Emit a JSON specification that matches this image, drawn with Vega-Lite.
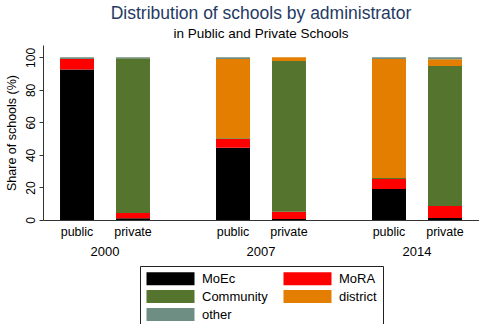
{
  "$schema": "https://vega.github.io/schema/vega-lite/v6.json",
  "autosize": {"type": "none"},
  "padding": {"left": 43, "top": 45, "right": 0, "bottom": 104},
  "width": 436,
  "height": 175,
  "background": "white",
  "config": {
    "font": "Liberation Sans",
    "view": {"stroke": null},
    "axis": {"labelOverlap": false}
  },
  "title": {
    "text": "Distribution of schools by administrator",
    "subtitle": "in Public and Private Schools",
    "anchor": "middle",
    "frame": "group",
    "fontSize": 17.5,
    "fontWeight": "normal",
    "color": "#1f3a63",
    "subtitleFontSize": 13.5,
    "subtitleColor": "#000000",
    "subtitlePadding": 4,
    "offset": 5
  },
  "datasets": {
    "shares": [
      {"year": "2000", "type": "public", "admin": "MoEc", "k": 1, "share": 92.6},
      {"year": "2000", "type": "public", "admin": "MoRA", "k": 2, "share": 6.4},
      {"year": "2000", "type": "public", "admin": "Community", "k": 3, "share": 0},
      {"year": "2000", "type": "public", "admin": "district", "k": 4, "share": 0},
      {"year": "2000", "type": "public", "admin": "other", "k": 5, "share": 1.0},
      {"year": "2000", "type": "private", "admin": "MoEc", "k": 1, "share": 1.0},
      {"year": "2000", "type": "private", "admin": "MoRA", "k": 2, "share": 3.3},
      {"year": "2000", "type": "private", "admin": "Community", "k": 3, "share": 95.1},
      {"year": "2000", "type": "private", "admin": "district", "k": 4, "share": 0},
      {"year": "2000", "type": "private", "admin": "other", "k": 5, "share": 0.6},
      {"year": "2007", "type": "public", "admin": "MoEc", "k": 1, "share": 44.5},
      {"year": "2007", "type": "public", "admin": "MoRA", "k": 2, "share": 5.3},
      {"year": "2007", "type": "public", "admin": "Community", "k": 3, "share": 0.5},
      {"year": "2007", "type": "public", "admin": "district", "k": 4, "share": 48.7},
      {"year": "2007", "type": "public", "admin": "other", "k": 5, "share": 1.0},
      {"year": "2007", "type": "private", "admin": "MoEc", "k": 1, "share": 0.6},
      {"year": "2007", "type": "private", "admin": "MoRA", "k": 2, "share": 4.5},
      {"year": "2007", "type": "private", "admin": "Community", "k": 3, "share": 92.6},
      {"year": "2007", "type": "private", "admin": "district", "k": 4, "share": 2.3},
      {"year": "2007", "type": "private", "admin": "other", "k": 5, "share": 0},
      {"year": "2014", "type": "public", "admin": "MoEc", "k": 1, "share": 19.0},
      {"year": "2014", "type": "public", "admin": "MoRA", "k": 2, "share": 6.2},
      {"year": "2014", "type": "public", "admin": "Community", "k": 3, "share": 0.6},
      {"year": "2014", "type": "public", "admin": "district", "k": 4, "share": 73.2},
      {"year": "2014", "type": "public", "admin": "other", "k": 5, "share": 1.0},
      {"year": "2014", "type": "private", "admin": "MoEc", "k": 1, "share": 1.2},
      {"year": "2014", "type": "private", "admin": "MoRA", "k": 2, "share": 7.4},
      {"year": "2014", "type": "private", "admin": "Community", "k": 3, "share": 86.1},
      {"year": "2014", "type": "private", "admin": "district", "k": 4, "share": 4.1},
      {"year": "2014", "type": "private", "admin": "other", "k": 5, "share": 1.2}
    ],
    "labels": [
      {"year": "2000", "type": "public"},
      {"year": "2000", "type": "private"},
      {"year": "2007", "type": "public"},
      {"year": "2007", "type": "private"},
      {"year": "2014", "type": "public"},
      {"year": "2014", "type": "private"}
    ]
  },
  "encoding": {
    "x": {
      "field": "year",
      "type": "nominal",
      "scale": {"paddingInner": 0.205, "paddingOuter": 0, "align": 0},
      "axis": {
        "title": null,
        "labelAngle": 0,
        "ticks": false,
        "tickSize": 0,
        "labelPadding": 25,
        "labelFontSize": 13,
        "labelColor": "#000000",
        "domainColor": "#333333",
        "domainWidth": 1
      }
    },
    "xOffset": {
      "field": "type",
      "type": "nominal",
      "sort": ["public", "private"],
      "scale": {"paddingInner": 0.393, "paddingOuter": 0.304}
    }
  },
  "layer": [
    {
      "data": {"name": "shares"},
      "mark": {"type": "bar", "stroke": null},
      "encoding": {
        "y": {
          "field": "share",
          "type": "quantitative",
          "stack": "zero",
          "scale": {"domain": [0, 107.6], "nice": false, "zero": true},
          "axis": {
            "title": "Share of schools (%)",
            "titleFontSize": 12.5,
            "titleFontWeight": "normal",
            "titleColor": "#000000",
            "titlePadding": 6,
            "tickCount": 6,
            "tickMinStep": 20,
            "labelOverlap": false,
            "labelBound": false,
            "labelFlush": false,
            "grid": false,
            "labelAngle": 270,
            "labelAlign": "center",
            "labelBaseline": "bottom",
            "labelFontSize": 12,
            "labelColor": "#000000",
            "labelPadding": 2,
            "tickSize": 4,
            "tickColor": "#333333",
            "domainColor": "#333333"
          }
        },
        "color": {
          "field": "admin",
          "type": "nominal",
          "scale": {
            "domain": ["MoEc", "MoRA", "Community", "district", "other"],
            "range": ["#000000", "#ff0000", "#55752f", "#e37e00", "#6e8e84"]
          },
          "legend": {
            "title": null,
            "orient": "none",
            "legendX": 97,
            "legendY": 221,
            "direction": "horizontal",
            "columns": 2,
            "symbolType": "M-1,-1.08H7V1.08H-1Z",
            "symbolSize": 144,
            "symbolStrokeWidth": 0,
            "symbolOpacity": 1,
            "labelFontSize": 13,
            "labelColor": "#000000",
            "labelOffset": 43,
            "columnPadding": 15,
            "rowPadding": 4,
            "padding": 6,
            "strokeColor": "#222222",
            "fillColor": "#ffffff"
          }
        },
        "order": {"field": "k", "type": "quantitative"}
      }
    },
    {
      "data": {"name": "labels"},
      "mark": {"type": "text", "fontSize": 12.5, "color": "#000000", "baseline": "middle", "dy": 12},
      "encoding": {
        "y": {"datum": 0},
        "text": {"field": "type"}
      }
    }
  ]
}
